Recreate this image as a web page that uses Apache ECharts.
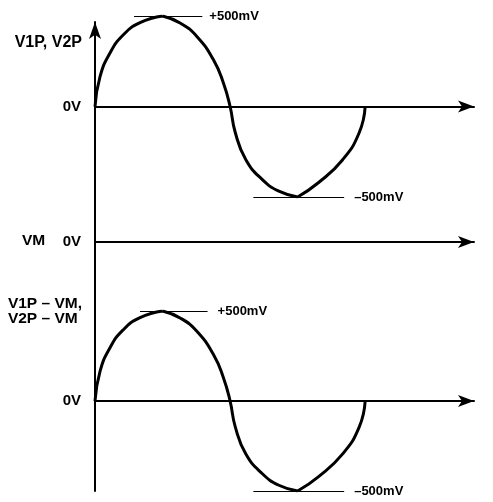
<!DOCTYPE html>
<html lang="en">
<head>
	<meta charset="UTF-8">
	<title>V1P / VM waveforms</title>
	<style>
		html,body{margin:0px;padding:0px;background:#fff;}
		#main{width:493px;height:502px;}
	</style>
</head>
<body>
	<div id="main"></div>
</body>
</html>
<script type="text/javascript" src="https://cdn.jsdelivr.net/npm/echarts@6/dist/echarts.min.js"></script>
<script type="text/javascript">
	// phase in degrees
	var phase = [0, 6.7, 20, 37.5, 60, 90, 114, 136, 158, 171, 180, 187, 201, 223, 245, 270, 298, 330, 352, 360];
	// V1P, V2P in mV
	var v1p = [0, 165, 296, 395, 463, 500, 460, 386, 257, 131, 0, -145, -294, -404, -468, -500, -420, -294, -145, 0];
	// VM in mV
	var vmPhase = [0, 360];
	var vm = [0, 0];
	// V1P - VM in mV
	var diff = [0, 165, 296, 395, 463, 500, 460, 386, 257, 131, 0, -145, -294, -404, -468, -500, -420, -294, -145, 0];
	// the drawing has sharp corners at the peaks
	var corners = [90, 270];
	// reference ticks at the peaks: [from phase, to phase]
	var topPeakSpan = [52, 143];
	var topTroughSpan = [211, 332];
	var botPeakSpan = [60, 150];
	var botTroughSpan = [211, 332];

	var font = 'Liberation Sans';

	// split the curve at the corners so each arch is smoothed on its own
	function pairs(xs, ys, breaks){
		var out = [];
		xs.forEach(function(x, i){
			out.push([x, ys[i]]);
			if(breaks && breaks.indexOf(x) >= 0){
				out.push(null);
				out.push([x, ys[i]]);
			}
		});
		return out;
	}
	function markLines(peak, trough, peakDist, troughDist){
		return {
			symbol: 'none',
			silent: true,
			animation: false,
			lineStyle: {color: '#000', width: 1, type: 'solid'},
			label: {
				show: true, position: 'end', color: '#000',
				fontFamily: font, fontWeight: 'bold', fontSize: 13
			},
			data: [
				[{coord: [peak[0], 500], label: {formatter: '+500mV', distance: peakDist}}, {coord: [peak[1], 500]}],
				[{coord: [trough[0], -500], label: {formatter: '\u2013500mV', distance: troughDist}}, {coord: [trough[1], -500]}]
			]
		};
	}
	var arrowLine = {
		show: true,
		onZero: true,
		symbol: ['none', 'arrow'],
		symbolSize: [9, 16],
		lineStyle: {color: '#000', width: 2}
	};
	function xAx(i, show){
		return {
			gridIndex: i, type: 'value', min: 0, max: 505,
			axisLine: show ? arrowLine : {show: false},
			axisTick: {show: false}, axisLabel: {show: false}, splitLine: {show: false}
		};
	}
	function yAx(i, min, max, interval){
		return {
			gridIndex: i, type: 'value', min: min, max: max, interval: interval,
			axisLine: {show: false}, axisTick: {show: false}, splitLine: {show: false},
			axisLabel: {
				margin: 14, color: '#000', fontFamily: font, fontWeight: 'bold', fontSize: 15,
				formatter: function(v){ return v === 0 ? '0V' : ''; }
			}
		};
	}
	var wave = {
		type: 'line', symbol: 'none', smooth: 0.5, connectNulls: false, silent: true,
		lineStyle: {color: '#000', width: 3}
	};

	var option = {
		animation: false,
		grid: [
			{left: 95, top: 16, width: 379, height: 181},
			{left: 95, top: 232, width: 379, height: 20},
			{left: 95, top: 311, width: 379, height: 180},
			{left: 95, top: 22, width: 10, bottom: 11}
		],
		xAxis: [
			xAx(0, true), xAx(1, true), xAx(2, true), xAx(3, false)
		],
		yAxis: [
			yAx(0, -500, 500, 500),
			yAx(1, -1, 1, 1),
			yAx(2, -500, 500, 500),
			{
				gridIndex: 3, type: 'value', min: 0, max: 1,
				axisLine: {show: true, symbol: ['none', 'arrow'], symbolSize: [9, 17], lineStyle: {color: '#000', width: 2}},
				axisTick: {show: false}, axisLabel: {show: false}, splitLine: {show: false}
			}
		],
		graphic: [
			{type: 'text', right: 411, top: 35, style: {text: 'V1P, V2P', align: 'right', fill: '#000', font: 'bold 16px ' + font}},
			{type: 'text', left: 22, top: 233, style: {text: 'VM', fill: '#000', font: 'bold 15.5px ' + font}},
			{type: 'text', right: 411, top: 296, style: {text: 'V1P \u2013 VM,\nV2P \u2013 VM', align: 'right', lineHeight: 15, fill: '#000', font: 'bold 15.5px ' + font}}
		],
		series: [
			Object.assign({}, wave, {xAxisIndex: 0, yAxisIndex: 0, data: pairs(phase, v1p, corners),
				markLine: markLines(topPeakSpan, topTroughSpan, 7, 10)}),
			Object.assign({}, wave, {xAxisIndex: 1, yAxisIndex: 1, data: pairs(vmPhase, vm),
				lineStyle: {color: '#000', width: 2}}),
			Object.assign({}, wave, {xAxisIndex: 2, yAxisIndex: 2, data: pairs(phase, diff, corners),
				markLine: markLines(botPeakSpan, botTroughSpan, 10, 10)})
		]
	};
	var myChart = echarts.init(document.getElementById('main'));
	myChart.setOption(option);
</script>
